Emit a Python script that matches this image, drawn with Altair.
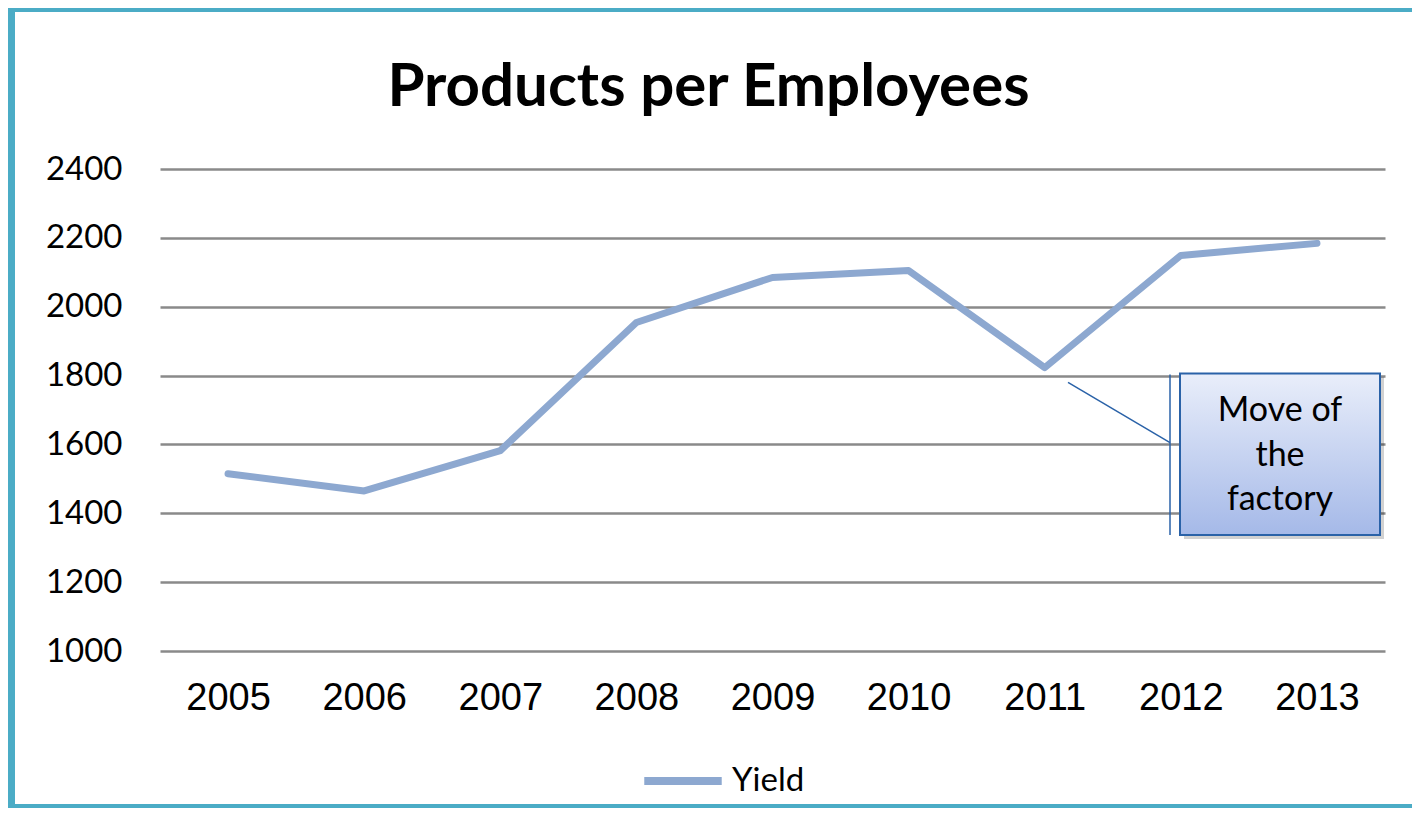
import altair as alt
import pandas as pd

years = ["2005", "2006", "2007", "2008", "2009", "2010", "2011", "2012", "2013"]
yield_values = [1515, 1465, 1582, 1954, 2085, 2105, 1823, 2149, 2184]
series_name = "Yield"
title_text = "Products per Employees"
note_text = "Move of\nthe\nfactory"
y_ticks = [1000, 1200, 1400, 1600, 1800, 2000, 2200, 2400]

LINE = "#8DA8D0"
TEAL = "#4BACC6"
CALLOUT = "#2A62A8"

df = pd.DataFrame({"Year": years, "Value": yield_values, "Series": [series_name] * len(years)})
one = pd.DataFrame({"k": [0]})

W, H = 1225, 482

line = alt.Chart(df).mark_line(strokeWidth=7, strokeJoin="round", strokeCap="round").encode(
    x=alt.X("Year:O", sort=years, scale=alt.Scale(padding=0.5),
            axis=alt.Axis(title=None, labelAngle=0, ticks=False, domain=False,
                          labelFont="Liberation Sans", labelFontSize=38, labelColor="#000",
                          labelPadding=28)),
    y=alt.Y("Value:Q", scale=alt.Scale(domain=[1000, 2400], nice=False),
            axis=alt.Axis(title=None, values=y_ticks, format="d", ticks=False, tickSize=0,
                          domain=False, labelFont="Lato", labelFontSize=33, labelColor="#000",
                          labelPadding=38, gridColor="#8a8a8a", gridWidth=2.5)),
    color=alt.Color("Series:N", scale=alt.Scale(range=[LINE]),
                    legend=alt.Legend(title=None, orient="none", legendX=480, legendY=569,
                                      symbolType="stroke", symbolSize=6000, symbolStrokeWidth=8,
                                      labelFont="Lato", labelFontSize=33, labelColor="#000",
                                      labelOffset=6, padding=0)),
)

base = alt.Chart(one)

# annotation callout
shadow = base.mark_rect(color="#000", opacity=0.18).encode(
    x=alt.value(1024), x2=alt.value(1224), y=alt.datum(1795), y2=alt.datum(1325))
grad = alt.Gradient(gradient="linear",
                    stops=[alt.GradientStop(color="#E9EEFA", offset=0),
                           alt.GradientStop(color="#A5B9E8", offset=1)],
                    x1=0, x2=0, y1=0, y2=1)
box = base.mark_rect(fill=grad, stroke=CALLOUT, strokeWidth=2).encode(
    x=alt.value(1020), x2=alt.value(1220), y=alt.datum(1806), y2=alt.datum(1337))
vline = base.mark_rule(color=CALLOUT, strokeWidth=1.5).encode(
    x=alt.value(1010), y=alt.datum(1803), y2=alt.datum(1337))
diag = base.mark_rule(color=CALLOUT, strokeWidth=1.5).encode(
    x=alt.value(908), x2=alt.value(1010), y=alt.datum(1780), y2=alt.datum(1605))
note = base.mark_text(font="Lato", fontSize=34, lineHeight=44.5, align="center",
                      baseline="middle", lineBreak="\n", color="#000").encode(
    x=alt.value(1120), y=alt.datum(1696), text=alt.value(note_text))

# chart border (decoration)
b_top = base.mark_rect(color=TEAL).encode(
    x=alt.value(-152), x2=alt.value(1252), y=alt.value(-161), y2=alt.value(-157))
b_left = base.mark_rect(color=TEAL).encode(
    x=alt.value(-152), x2=alt.value(-145), y=alt.value(-161), y2=alt.value(639))
b_bot = base.mark_rect(color=TEAL).encode(
    x=alt.value(-152), x2=alt.value(1252), y=alt.value(635), y2=alt.value(639))

chart = alt.layer(line, vline, diag, shadow, box, note, b_top, b_left, b_bot).properties(
    width=W, height=H,
    title=alt.Title(title_text, font="Lato", fontSize=60, fontWeight="bold", color="#000",
                    anchor="middle", dx=-64, offset=0, dy=158, baseline="alphabetic"),
    autosize=alt.AutoSizeParams(type="none"),
    padding={"left": 152, "top": 161, "right": 27, "bottom": 157},
    background="white",
).configure_view(stroke=None)

chart.save("out.html", embed_options={"renderer": "svg", "actions": False})
